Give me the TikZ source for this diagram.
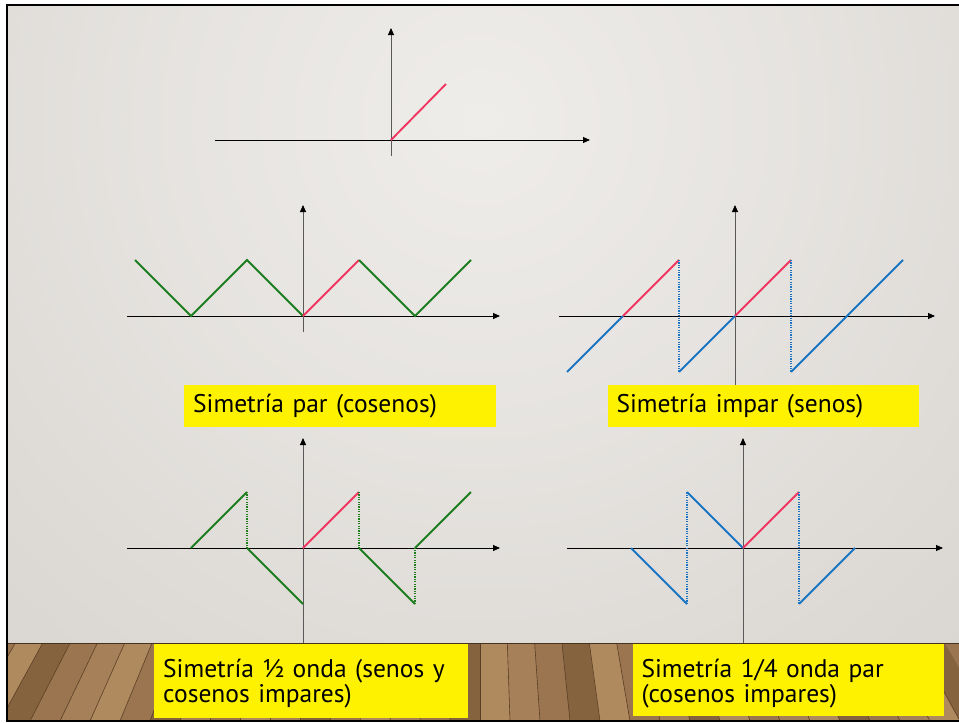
\documentclass[tikz,border=0pt]{standalone}
\usepackage{fontspec}
\setmainfont{PT Sans}
\usetikzlibrary{arrows.meta}
\definecolor{wred}{HTML}{F0375F}
\definecolor{wgreen}{HTML}{1E7E1E}
\definecolor{wblue}{HTML}{1C74C4}
\definecolor{wallin}{HTML}{EFEDEA}
\definecolor{wallout}{HTML}{CDC9C4}
\definecolor{woodA}{HTML}{9B7550}
\definecolor{woodB}{HTML}{B08A5F}
\definecolor{woodC}{HTML}{86633F}
\definecolor{woodD}{HTML}{A68058}
\definecolor{woodline}{HTML}{5A3F25}
\begin{document}
\begin{tikzpicture}[x=1pt,y=-1pt,
  axisx/.style={black, line width=0.9pt, -{Triangle[length=7pt,width=6pt]}},
  axisy/.style={black!65, line width=0.9pt, -{Triangle[length=7pt,width=6pt,color=black]}},
  wave/.style={line width=1.9pt},
  jump/.style={line width=1.2pt, dash pattern=on 1.2pt off 1.2pt},
  labelfont/.style={font=\fontsize{25.5}{25.7}\selectfont},
  labelbox/.style={fill=yellow, anchor=north west, align=left, inner xsep=9pt, inner ysep=0pt, labelfont},
  yellowbox/.style={fill=yellow, anchor=north west, inner sep=0pt},
  labeltext/.style={anchor=north west, align=left, inner xsep=9pt, inner ysep=0pt, labelfont}
]
\useasboundingbox (0,0) rectangle (959,723);
\fill[white] (0,0) rectangle (959,723);
% wall
\begin{scope}
  \clip (7,5) rectangle (959,643);
  \shade[inner color=wallin, outer color=wallout] (480,120) circle[radius=1150];
\end{scope}
% floor
\begin{scope}
  \clip (7,643) rectangle (959,721);
  \fill[woodA] (7,643) rectangle (959,721);
  \foreach \i/\wc in {-17/woodB,-16/woodC,-15/woodA,-14/woodD,-13/woodB,-12/woodA,-11/woodC,-10/woodD,
                      -9/woodA,-8/woodB,-7/woodD,-6/woodC,-5/woodA,-4/woodB,-3/woodD,-2/woodA,-1/woodC,
                      0/woodB,1/woodD,2/woodA,3/woodC,4/woodB,5/woodA,6/woodD,7/woodC,8/woodB,
                      9/woodA,10/woodD,11/woodB,12/woodC,13/woodA,14/woodD,15/woodB,16/woodC}{
    \pgfmathsetmacro\xa{480+\i*30}
    \pgfmathsetmacro\xb{480+(\i+1)*30}
    \pgfmathsetmacro\ta{480+\i*30*0.911}
    \pgfmathsetmacro\tb{480+(\i+1)*30*0.911}
    \fill[fill=\wc] (\xa,721) -- (\ta,643) -- (\tb,643) -- (\xb,721) -- cycle;
    \draw[woodline, line width=0.6pt] (\xa,721) -- (\ta,643);
  }
  \draw[woodline!80!black, line width=1.2pt] (7,643.5) -- (959,643.5);
\end{scope}
% frame
\draw[black, line width=2.5pt] (7.2,4) -- (7.2,722);
\draw[black, line width=2.5pt] (6,5.2) -- (959,5.2);
\draw[black, line width=2pt] (6,721) -- (959,721);

% top graph
\draw[axisx] (215,140) -- (590,140);
\draw[axisy] (391,156) -- (391,28);
\draw[wave, wred] (391,140) -- (446,84);

% middle left: even symmetry
\draw[axisx] (127,316) -- (500,316);
\draw[axisy] (303,332) -- (303,205);
\draw[wave, wgreen] (135,260) -- (191,316) -- (247,260) -- (303,316);
\draw[wave, wred] (303,316) -- (359,260);
\draw[wave, wgreen] (359,260) -- (415,316) -- (471,260);

% middle right: odd symmetry
\draw[axisx] (559,316) -- (935,316);
\draw[axisy] (735,385) -- (735,205);
\draw[wave, wblue] (567,372) -- (623,316);
\draw[wave, wred] (623,316) -- (679,260);
\draw[jump, wblue] (679,260) -- (679,372);
\draw[wave, wblue] (679,372) -- (735,316);
\draw[wave, wred] (735,316) -- (791,260);
\draw[jump, wblue] (791,260) -- (791,372);
\draw[wave, wblue] (791,372) -- (903,260);

% bottom left: half-wave symmetry
\draw[axisx] (127,548) -- (500,548);
\draw[axisy] (303,643) -- (303,438);
\draw[wave, wgreen] (191,548) -- (247,492);
\draw[jump, wgreen] (247,492) -- (247,548);
\draw[wave, wgreen] (247,548) -- (303,604);
\draw[wave, wred] (303,548) -- (359,492);
\draw[jump, wgreen] (359,492) -- (359,548);
\draw[wave, wgreen] (359,548) -- (415,604);
\draw[jump, wgreen] (415,604) -- (415,548);
\draw[wave, wgreen] (415,548) -- (471,492);

% bottom right: quarter-wave even symmetry
\draw[axisx] (567,548) -- (943,548);
\draw[axisy] (743,643) -- (743,438);
\draw[wave, wblue] (631,548) -- (687,604);
\draw[jump, wblue] (687,604) -- (687,492);
\draw[wave, wblue] (687,492) -- (743,548);
\draw[wave, wred] (743,548) -- (799,492);
\draw[jump, wblue] (799,492) -- (799,604);
\draw[wave, wblue] (799,604) -- (855,548);

% labels
\node[labelbox, text width=293.7pt, minimum height=41.7pt] (lab1) at (184,385) {Simetría par (cosenos)};
\node[labelbox, text width=293.7pt, minimum height=41.7pt] (lab2) at (607.3,385) {Simetría impar (senos)};
\node[yellowbox, minimum width=313.3pt, minimum height=73.3pt] (lab3) at (154,644) {};
\node[labeltext, text width=295pt] (lab3text) at ([yshift=-14.5pt]lab3.north west) {Simetría ½ onda (senos y\\cosenos impares)};
\node[yellowbox, minimum width=311.7pt, minimum height=72.7pt] (lab4) at (632.3,643.3) {};
\node[labeltext, text width=293.7pt] (lab4text) at ([yshift=-15.2pt]lab4.north west) {Simetría 1/4 onda par\\(cosenos impares)};
\end{tikzpicture}
\end{document}
